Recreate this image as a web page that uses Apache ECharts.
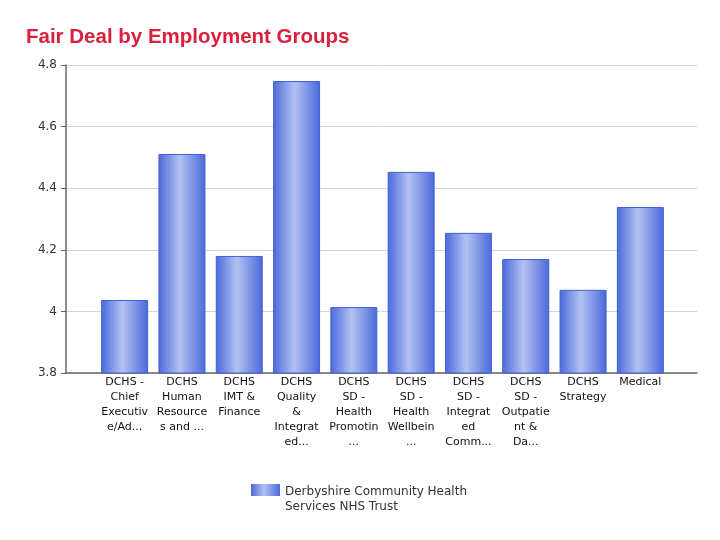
<!DOCTYPE html>
<html><head><meta charset="utf-8">
<script src="https://cdn.jsdelivr.net/npm/echarts@6/dist/echarts.min.js"></script>
<style>html,body{margin:0;padding:0;background:#fff}#c{width:720px;height:540px}</style>
</head><body><div id="c"></div>
<script>
const title = 'Fair Deal by Employment Groups';
const seriesName = 'Derbyshire Community Health Services NHS Trust';
const categories = [
  'DCHS -\nChief\nExecutiv\ne/Ad...',
  'DCHS\nHuman\nResource\ns and ...',
  'DCHS\nIMT &\nFinance',
  'DCHS\nQuality\n&\nIntegrat\ned...',
  'DCHS\nSD -\nHealth\nPromotin\n...',
  'DCHS\nSD -\nHealth\nWellbein\n...',
  'DCHS\nSD -\nIntegrat\ned\nComm...',
  'DCHS\nSD -\nOutpatie\nnt &\nDa...',
  'DCHS\nStrategy',
  'Medical'
];
const values = [4.037, 4.511, 4.18, 4.748, 4.014, 4.453, 4.255, 4.17, 4.07, 4.339];
const yMin = 3.8, yMax = 4.8, yStep = 0.2;

const font = 'Tahoma, "DejaVu Sans", sans-serif';
const barGrad = new echarts.graphic.LinearGradient(0, 0, 1, 0, [
  {offset: 0, color: '#4a68da'},
  {offset: 0.45, color: '#b3c2f2'},
  {offset: 1, color: '#4a68da'}
]);
const chart = echarts.init(document.getElementById('c'));
chart.setOption({
  animation: false,
  backgroundColor: '#fff',
  title: {text: title, left: 21, top: 22,
    textStyle: {color: '#d9213d', fontSize: 20.5, fontWeight: 'bold', fontFamily: '"Liberation Sans", Arial, sans-serif'}},
  legend: {
    left: 246, top: 479, itemWidth: 29, itemHeight: 30, itemGap: 6,
    icon: 'path://M0,0L29,0L29,12L0,12Z M0,29.99L0.01,29.99L0.01,30L0,30Z',
    itemStyle: {borderWidth: 0},
    formatter: () => 'Derbyshire Community Health\nServices NHS Trust',
    textStyle: {fontSize: 12, color: '#333', lineHeight: 15, fontFamily: font}
  },
  grid: [
    {left: 66, right: 23, top: 65, bottom: 167},
    {left: 96, right: 51, top: 65, bottom: 167}
  ],
  xAxis: [
    {gridIndex: 0, type: 'value', min: 0, max: 1, axisLine: {show: true, onZero: false, lineStyle: {color: '#666', width: 1.5}},
     axisTick: {show: false}, axisLabel: {show: false}, splitLine: {show: false}},
    {gridIndex: 1, type: 'category', data: categories, axisLine: {show: false}, axisTick: {show: false},
     axisLabel: {interval: 0, margin: 2, fontSize: 11, lineHeight: 15, color: '#111', fontFamily: font}}
  ],
  yAxis: [
    {gridIndex: 0, type: 'value', min: yMin, max: yMax, interval: yStep,
     axisLine: {show: true, lineStyle: {color: '#666', width: 1.5}},
     axisTick: {show: true, length: 5, lineStyle: {color: '#666'}},
     axisLabel: {fontSize: 12, color: '#333', margin: 9, fontFamily: font},
     splitLine: {show: true, lineStyle: {color: '#d4d4d4'}}},
    {gridIndex: 1, type: 'value', min: yMin, max: yMax, interval: yStep, show: false, splitLine: {show: false}}
  ],
  series: [{
    name: seriesName, type: 'bar', xAxisIndex: 1, yAxisIndex: 1,
    data: values, barWidth: 47,
    itemStyle: {color: barGrad, borderColor: '#4261d4', borderWidth: 1}
  }]
});
</script></body></html>
